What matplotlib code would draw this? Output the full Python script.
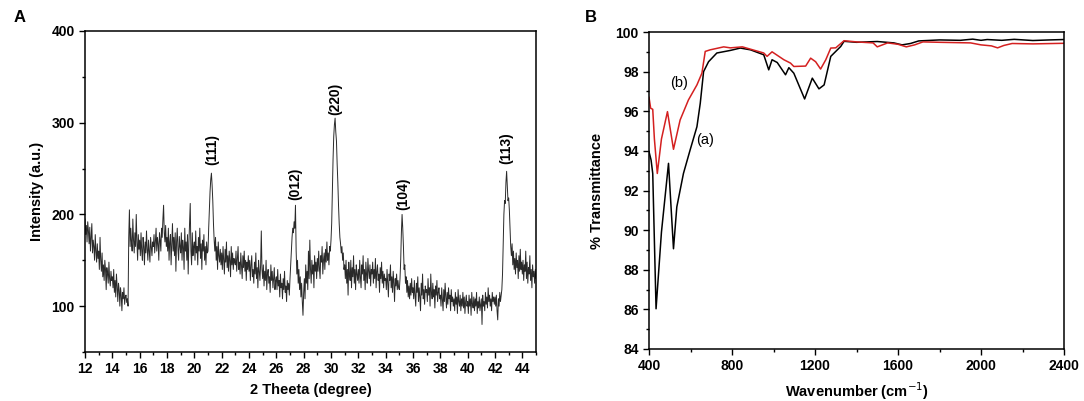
import numpy as np
import matplotlib
matplotlib.use("Agg")
import matplotlib.pyplot as plt
from matplotlib.ticker import MultipleLocator

plt.rcParams["font.family"] = ["Liberation Sans", "DejaVu Sans"]

# -----------------------------
# Panel A: XRD pattern, 12-45 deg, read every 0.05 deg
# -----------------------------
xrd_start, xrd_step = 12.0, 0.05
xrd_rows = [
    [195, 178, 188, 170, 192, 182, 168, 186, 160, 175, 190, 158, 172, 165, 150, 178, 160, 148, 168, 152],  # 12
    [160, 140, 175, 150, 138, 158, 132, 145, 128, 150, 140, 118, 142, 135, 125, 148, 130, 122, 138, 128],  # 13
    [132, 120, 140, 115, 128, 110, 135, 122, 105, 125, 118, 100, 120, 112, 95, 115, 108, 120, 102, 110],   # 14
    [112, 104, 108, 100, 175, 205, 165, 185, 170, 160, 195, 172, 158, 180, 165, 200, 170, 150, 178, 162],  # 15
    [172, 155, 180, 160, 150, 175, 165, 145, 170, 158, 182, 162, 150, 172, 160, 148, 175, 165, 155, 170],  # 16
    [165, 178, 158, 170, 185, 160, 175, 168, 150, 180, 172, 160, 185, 175, 195, 210, 180, 170, 188, 165],  # 17
    [175, 160, 185, 150, 170, 178, 145, 168, 190, 160, 175, 155, 180, 138, 170, 185, 162, 150, 176, 165],  # 18
    [158, 180, 150, 172, 165, 140, 185, 160, 170, 150, 178, 135, 168, 190, 212, 160, 145, 180, 155, 165],  # 19
    [170, 150, 182, 158, 165, 145, 175, 160, 185, 152, 168, 140, 172, 160, 178, 150, 165, 145, 170, 158],  # 20
    [160, 185, 205, 225, 238, 245, 232, 215, 190, 172, 160, 175, 150, 165, 140, 170, 155, 148, 162, 145],  # 21
    [158, 140, 165, 150, 135, 162, 148, 170, 142, 155, 138, 160, 150, 132, 165, 145, 158, 140, 152, 148],  # 22
    [145, 160, 138, 152, 165, 140, 148, 135, 158, 145, 130, 155, 142, 160, 138, 150, 128, 148, 140, 155],  # 23
    [138, 150, 128, 145, 155, 132, 140, 125, 148, 135, 158, 130, 142, 120, 150, 138, 128, 145, 182, 140],  # 24
    [130, 145, 122, 138, 128, 150, 118, 135, 140, 125, 132, 115, 145, 128, 138, 120, 130, 142, 118, 128],  # 25
    [132, 118, 140, 122, 128, 110, 135, 120, 125, 108, 130, 118, 138, 115, 122, 105, 128, 118, 125, 112],  # 26
    [130, 145, 160, 175, 185, 180, 192, 185, 210, 160, 135, 150, 125, 140, 118, 132, 110, 125, 105, 90],   # 27
    [115, 130, 108, 145, 125, 138, 118, 160, 130, 172, 140, 125, 150, 135, 145, 120, 155, 138, 148, 130],  # 28
    [152, 138, 160, 142, 130, 155, 148, 165, 135, 150, 158, 140, 162, 148, 170, 150, 158, 145, 165, 160],  # 29
    [172, 190, 225, 260, 285, 298, 305, 290, 280, 255, 235, 210, 190, 175, 168, 158, 165, 150, 158, 140],  # 30
    [145, 130, 150, 125, 140, 112, 148, 135, 128, 150, 120, 142, 132, 155, 125, 140, 118, 145, 135, 128],  # 31
    [140, 125, 150, 132, 120, 145, 135, 155, 128, 140, 118, 148, 135, 125, 152, 138, 130, 145, 122, 140],  # 32
    [135, 148, 125, 140, 130, 152, 120, 138, 145, 128, 135, 115, 142, 130, 148, 125, 138, 120, 135, 128],  # 33
    [130, 118, 140, 125, 110, 135, 128, 145, 120, 132, 115, 138, 125, 105, 130, 122, 135, 118, 128, 120],  # 34
    [118, 130, 150, 180, 200, 185, 165, 140, 145, 125, 132, 115, 128, 110, 122, 108, 125, 112, 130, 115],  # 35
    [120, 108, 128, 112, 100, 125, 115, 132, 105, 120, 110, 95, 125, 112, 135, 108, 118, 102, 122, 115],   # 36
    [118, 105, 130, 112, 120, 100, 135, 115, 108, 125, 110, 118, 98, 122, 112, 128, 105, 115, 120, 108],   # 37
    [112, 100, 120, 108, 95, 118, 105, 125, 110, 98, 115, 102, 120, 108, 112, 95, 118, 105, 110, 100],     # 38
    [108, 95, 115, 102, 110, 92, 118, 105, 100, 112, 95, 108, 100, 115, 98, 110, 92, 105, 112, 100],       # 39
    [105, 92, 112, 100, 108, 90, 115, 102, 98, 110, 95, 108, 100, 115, 92, 105, 98, 110, 95, 102],         # 40
    [108, 80, 112, 100, 105, 95, 115, 102, 110, 98, 120, 105, 112, 100, 108, 95, 115, 105, 110, 102],      # 41
    [110, 100, 112, 95, 85, 108, 100, 115, 105, 112, 118, 135, 170, 200, 215, 212, 235, 247, 230, 215],    # 42
    [218, 205, 185, 165, 155, 168, 145, 160, 140, 152, 135, 158, 142, 150, 130, 155, 138, 162, 140, 148],  # 43
    [135, 150, 128, 145, 138, 160, 130, 148, 125, 142, 135, 155, 128, 140, 120, 145, 132, 138, 125, 140],  # 44
    [130],                                                                                                 # 45
]
xrd_intensity = [v for row in xrd_rows for v in row]
two_theta = np.round(xrd_start + xrd_step * np.arange(len(xrd_intensity)), 2)

peak_labels = ["(111)", "(012)", "(220)", "(104)", "(113)"]
peak_pos = [21.3, 27.35, 30.3, 35.3, 42.85]
label_base = [254, 216, 308, 205, 255]

# -----------------------------
# Panel B: FTIR spectra
# -----------------------------
wn_a = [400, 410, 418, 434, 460, 494, 518, 534, 566, 598, 631, 647, 663, 687, 727, 792, 840,
        889, 953, 977, 993, 1018, 1058, 1074, 1098, 1150, 1187, 1219, 1244, 1276, 1324, 1340,
        1400, 1500, 1580, 1620, 1660, 1700, 1800, 1900, 1960, 2000, 2030, 2100, 2160, 2250, 2330, 2400]
tr_a = [93.96, 93.54, 92.86, 86.03, 89.9, 93.37, 89.06, 91.17, 92.86, 94.04, 95.22, 96.4, 98.0,
        98.5, 98.94, 99.07, 99.19, 99.1, 98.85, 98.09, 98.6, 98.46, 97.84, 98.2, 97.92, 96.62,
        97.67, 97.13, 97.33, 98.77, 99.27, 99.53, 99.48, 99.52, 99.45, 99.35, 99.42, 99.55, 99.6,
        99.58, 99.64, 99.58, 99.62, 99.58, 99.63, 99.57, 99.6, 99.62]

wn_b = [400, 408, 418, 426, 440, 460, 489, 518, 550, 590, 631, 655, 671, 695, 760, 792, 850,
        900, 953, 969, 993, 1050, 1082, 1098, 1155, 1179, 1203, 1227, 1252, 1276, 1300, 1340,
        1400, 1480, 1500, 1550, 1600, 1640, 1680, 1720, 1800, 1950, 2000, 2050, 2080, 2110, 2150, 2250, 2400]
tr_b = [96.7, 96.15, 96.1, 94.6, 92.86, 94.6, 95.98, 94.08, 95.56, 96.57, 97.33, 97.92, 99.02,
        99.1, 99.25, 99.2, 99.25, 99.1, 98.94, 98.77, 99.0, 98.6, 98.43, 98.26, 98.28, 98.68,
        98.5, 98.13, 98.6, 99.19, 99.2, 99.56, 99.5, 99.45, 99.25, 99.45, 99.38, 99.25, 99.35,
        99.5, 99.48, 99.45, 99.35, 99.3, 99.2, 99.32, 99.42, 99.4, 99.43]

# -----------------------------
# Plot
# -----------------------------
fig = plt.figure(figsize=(10.84, 4.01), dpi=100)
axA = fig.add_axes([85 / 1084, 1 - 352 / 401, (536 - 85) / 1084, (352 - 31) / 401])
axB = fig.add_axes([649 / 1084, 1 - 349 / 401, (1064 - 649) / 1084, (349 - 32) / 401])

axA.plot(two_theta, xrd_intensity, color="#2a2a2a", lw=0.7)
axA.set_xlim(12, 45)
axA.set_ylim(50, 400)
axA.xaxis.set_major_locator(MultipleLocator(2))
axA.xaxis.set_minor_locator(MultipleLocator(1))
axA.yaxis.set_major_locator(MultipleLocator(100))
axA.yaxis.set_minor_locator(MultipleLocator(50))
for lab, x, y in zip(peak_labels, peak_pos, label_base):
    axA.text(x, y, lab, rotation=90, ha="center", va="bottom", fontsize=10, fontweight="bold")
axA.set_xlabel("2 Theeta (degree)", fontsize=10.5, fontweight="bold", labelpad=5)
axA.set_ylabel("Intensity (a.u.)", fontsize=10.5, fontweight="bold", labelpad=5)
fig.text(14 / 1084, 1 - 17 / 401, "A", fontsize=12, fontweight="bold", va="center")

axB.plot(wn_a, tr_a, color="black", lw=1.1)
axB.plot(wn_b, tr_b, color="#d42020", lw=1.1)
axB.set_xlim(400, 2400)
axB.set_ylim(84, 100)
axB.xaxis.set_major_locator(MultipleLocator(400))
axB.xaxis.set_minor_locator(MultipleLocator(200))
axB.yaxis.set_major_locator(MultipleLocator(2))
axB.yaxis.set_minor_locator(MultipleLocator(1))
axB.text(545, 97.45, "(b)", fontsize=10.5, ha="center", va="center")
axB.text(668, 94.55, "(a)", fontsize=10.5, ha="center", va="center")
axB.set_xlabel("Wavenumber (cm$^{-1}$)", fontsize=10.5, fontweight="bold", labelpad=5)
axB.set_ylabel("% Transmittance", fontsize=10.5, fontweight="bold", labelpad=8)
fig.text(585 / 1084, 1 - 17 / 401, "B", fontsize=12, fontweight="bold", va="center")

for ax in (axA, axB):
    ax.tick_params(which="major", direction="out", length=4, width=1, top=False, right=False)
    ax.tick_params(which="minor", direction="out", length=2.5, width=1, top=False, right=False)
    for sp in ax.spines.values():
        sp.set_linewidth(1.1)
    for t in ax.get_xticklabels() + ax.get_yticklabels():
        t.set_fontsize(10)
        t.set_fontweight("bold")

fig.savefig("out.png", dpi=100)
